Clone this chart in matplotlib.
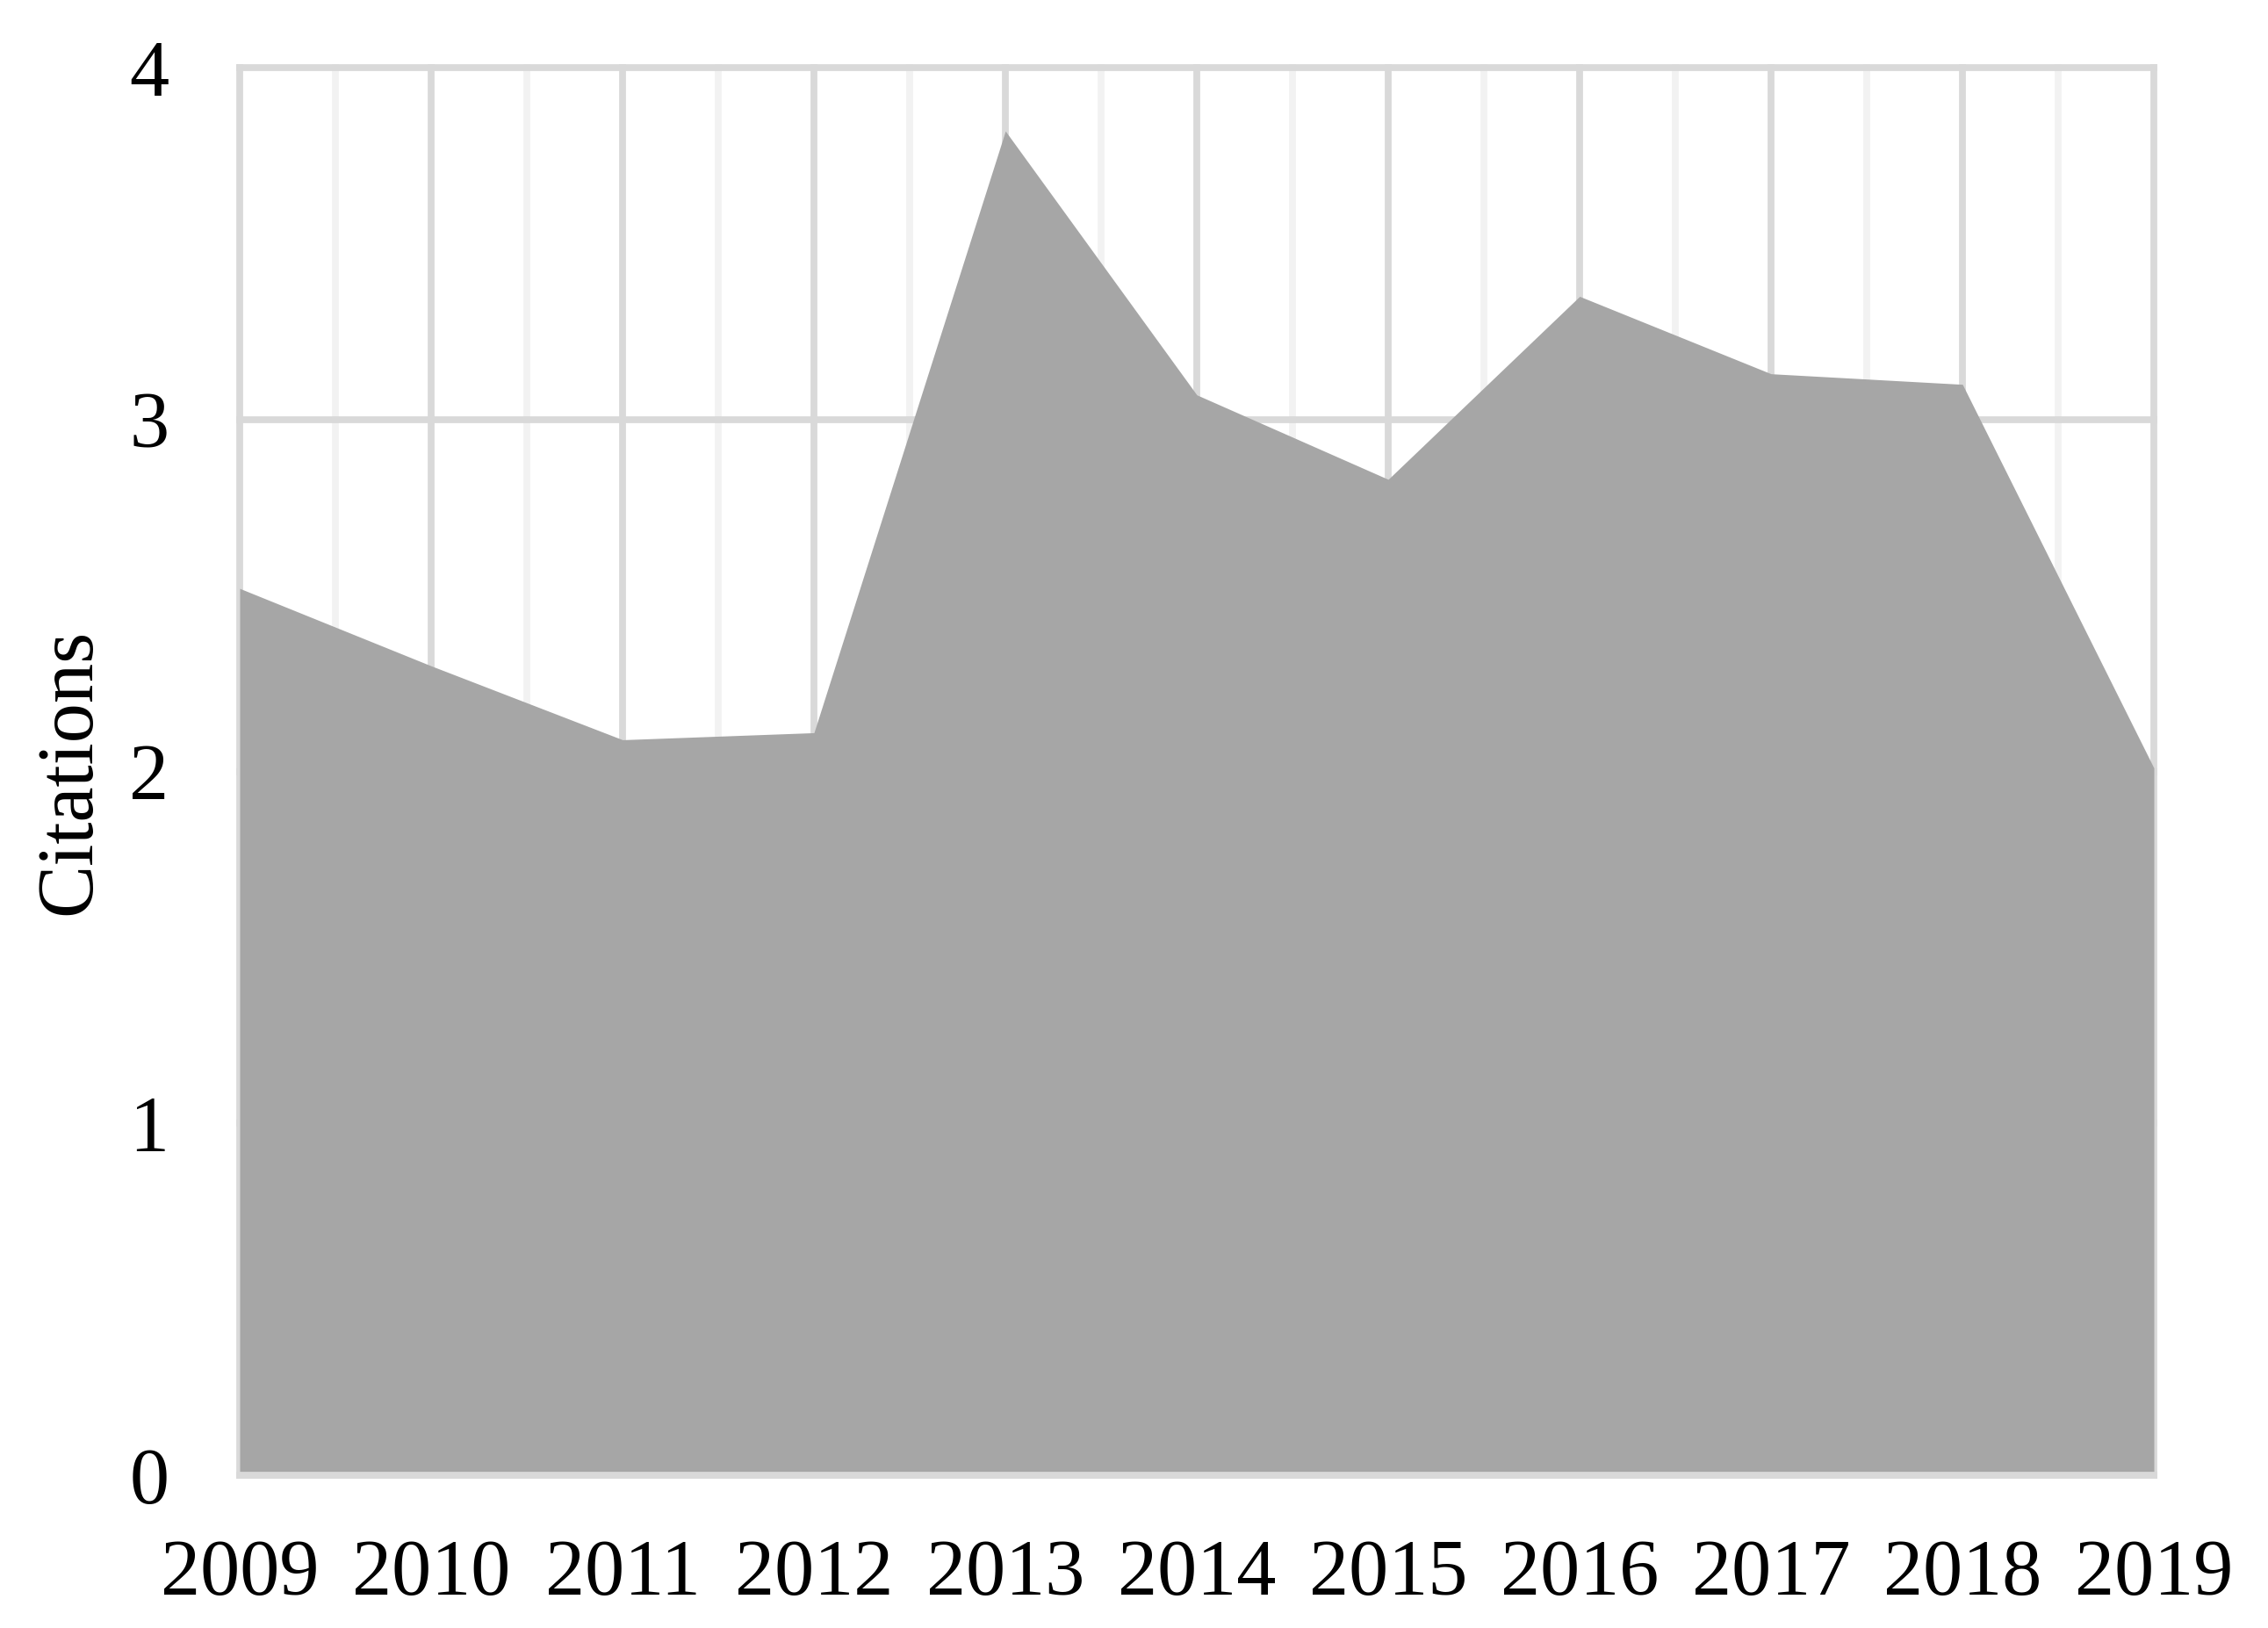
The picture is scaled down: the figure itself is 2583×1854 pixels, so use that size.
import matplotlib
matplotlib.use("Agg")
import matplotlib.pyplot as plt
from matplotlib.ticker import MultipleLocator

years = [2009, 2010, 2011, 2012, 2013, 2014, 2015, 2016, 2017, 2018, 2019]
citations = [2.52, 2.30, 2.09, 2.11, 3.82, 3.07, 2.83, 3.35, 3.13, 3.10, 2.01]
y_ticks = [0, 1, 2, 3, 4]

plt.rcParams['font.family'] = ['Liberation Serif', 'DejaVu Serif']

fig = plt.figure(figsize=(25.83, 18.54), dpi=100)
ax = fig.add_axes([273 / 2583, 1 - 1680 / 1854, 2180 / 2583, 1603 / 1854])

ax.fill_between(years, citations, 0, color='#a6a6a6', linewidth=0, zorder=3)

ax.set_xlim(years[0], years[-1])
ax.set_ylim(0, 4)
ax.set_xticks(years)
ax.set_xticklabels([str(y) for y in years])
ax.set_yticks(y_ticks)
ax.xaxis.set_minor_locator(MultipleLocator(0.5))

ax.set_axisbelow(True)
ax.grid(which='major', axis='both', color='#d9d9d9', linewidth=5.6)
ax.grid(which='minor', axis='x', color='#f2f2f2', linewidth=5.6)

# keep the edge gridlines at full width
for t in ax.xaxis.get_major_ticks() + ax.yaxis.get_major_ticks() + ax.xaxis.get_minor_ticks():
    t.gridline.set_clip_on(False)

for side in ['top', 'left', 'right']:
    ax.spines[side].set_visible(False)
ax.spines['bottom'].set_color('#d9d9d9')
ax.spines['bottom'].set_linewidth(5.6)
ax.spines['bottom'].set_zorder(4)

ax.tick_params(axis='both', which='both', length=0, labelsize=65)
ax.tick_params(axis='x', pad=52)
ax.tick_params(axis='y', pad=58)

ax.set_ylabel('Citations', fontsize=65, labelpad=19)

fig.savefig('out.png', dpi=100)
